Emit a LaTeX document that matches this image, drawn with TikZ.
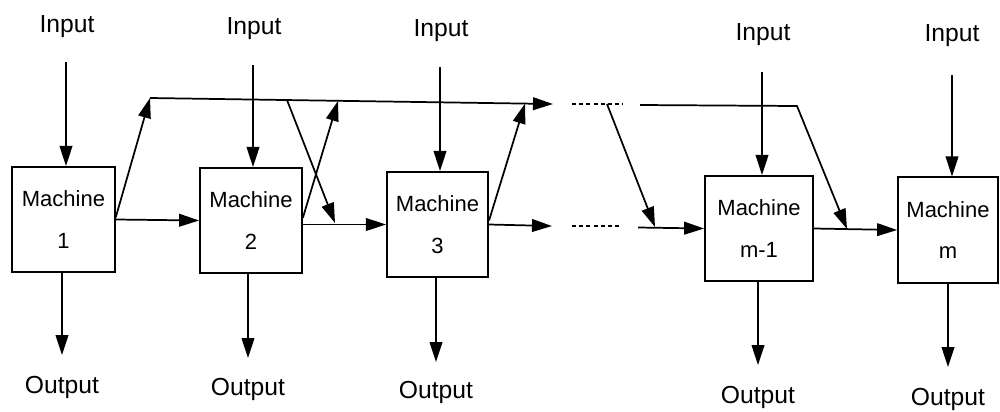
\documentclass[tikz,border=0pt]{standalone}
\usepackage{fontspec}
\setmainfont{Liberation Sans}
\usetikzlibrary{arrows.meta}
\begin{document}
\begin{tikzpicture}[x=0.75pt,y=-0.75pt,
  line width=1.3pt,
  arr/.style={-{Triangle[length=15pt,width=9.5pt]}},
  dotline/.style={line width=1pt,dash pattern=on 3pt off 2.4pt},
  machine/.style={draw,line width=1.3pt,minimum height=79pt,align=center,
    inner sep=0pt,font=\fontsize{16.5}{20}\selectfont},
  lbl/.style={font=\fontsize{18.5}{22}\selectfont,anchor=base,inner sep=0pt}]
\useasboundingbox (0,0) rectangle (1000,411);

% machines
\node[machine,minimum width=77pt]   (m1) at (63.5,219.5) {Machine\\[11pt]1};
\node[machine,minimum width=76.5pt] (m2) at (251,220.5)  {Machine\\[11pt]2};
\node[machine,minimum width=76pt]   (m3) at (437.5,224.5) {Machine\\[11pt]3};
\node[machine,minimum width=81pt]   (m4) at (759,228.5)  {Machine\\[11pt]m-1};
\node[machine,minimum width=75pt]   (m5) at (948,230)    {Machine\\[11pt]m};

% input labels and arrows
\node[lbl] (in1) at (67,32)  {Input};
\node[lbl] (in2) at (254,34) {Input};
\node[lbl] (in3) at (441,36) {Input};
\node[lbl] (in4) at (763,40) {Input};
\node[lbl] (in5) at (952,41) {Input};
\coordinate (i1) at (66,62);
\coordinate (i2) at (253,65);
\coordinate (i3) at (440,67);
\coordinate (i4) at (762,72);
\coordinate (i5) at (952,75);
\draw[arr] (i1) -- (i1 |- m1.north);
\draw[arr] (i2) -- (i2 |- m2.north);
\draw[arr] (i3) -- (i3 |- m3.north);
\draw[arr] (i4) -- (i4 |- m4.north);
\draw[arr] (i5) -- (i5 |- m5.north);

% output labels and arrows
\node[lbl] (out1) at (62,393)  {Output};
\node[lbl] (out2) at (248,395) {Output};
\node[lbl] (out3) at (436,398) {Output};
\node[lbl] (out4) at (758,403) {Output};
\node[lbl] (out5) at (948,405) {Output};
\coordinate (o1) at (62,355);
\coordinate (o2) at (248,358);
\coordinate (o3) at (436,362);
\coordinate (o4) at (758,365);
\coordinate (o5) at (948,367);
\draw[arr] (o1 |- m1.south) -- (o1);
\draw[arr] (o2 |- m2.south) -- (o2);
\draw[arr] (o3 |- m3.south) -- (o3);
\draw[arr] (o4 |- m4.south) -- (o4);
\draw[arr] (o5 |- m5.south) -- (o5);

% lower flow line
\coordinate (b1) at (552,226);
\coordinate (bd1) at (572,226);
\coordinate (bd2) at (622,226);
\coordinate (b2) at (638,227.5);
\draw[arr] (m1.east) -- (m2.west);
\draw[arr] (m2.east |- m3.west) -- (m3.west);
\draw[arr] (m3.east) -- (b1);
\draw[dotline] (bd1) -- (bd2);
\draw[arr] (b2) -- (m4.west);
\draw[arr] (m4.east) -- (m5.west);

% upper bypass line
\coordinate (t0) at (150,98);
\coordinate (t1) at (553,104);
\coordinate (u2) at (338,101);
\coordinate (u3) at (525,103.6);
\coordinate (x1) at (287,100);
\coordinate (x2) at (335,223);
\coordinate (td1) at (572,104);
\coordinate (td2) at (623,104);
\coordinate (s1) at (607,104);
\coordinate (s2) at (655,227);
\coordinate (t2) at (640,105);
\coordinate (t3) at (797,106);
\coordinate (t4) at (847,229);
\draw[arr] (t0) -- (t1);
\draw[arr] ([yshift=1.5pt]m1.east) -- (t0);
\draw[arr] ([yshift=2pt]m2.east) -- (u2);
\draw[arr] (x1) -- (x2);
\draw[arr] ([yshift=3pt]m3.east) -- (u3);
\draw[dotline] (td1) -- (td2);
\draw[arr] (s1) -- (s2);
\draw[arr] (t2) -- (t3) -- (t4);
\end{tikzpicture}
\end{document}
